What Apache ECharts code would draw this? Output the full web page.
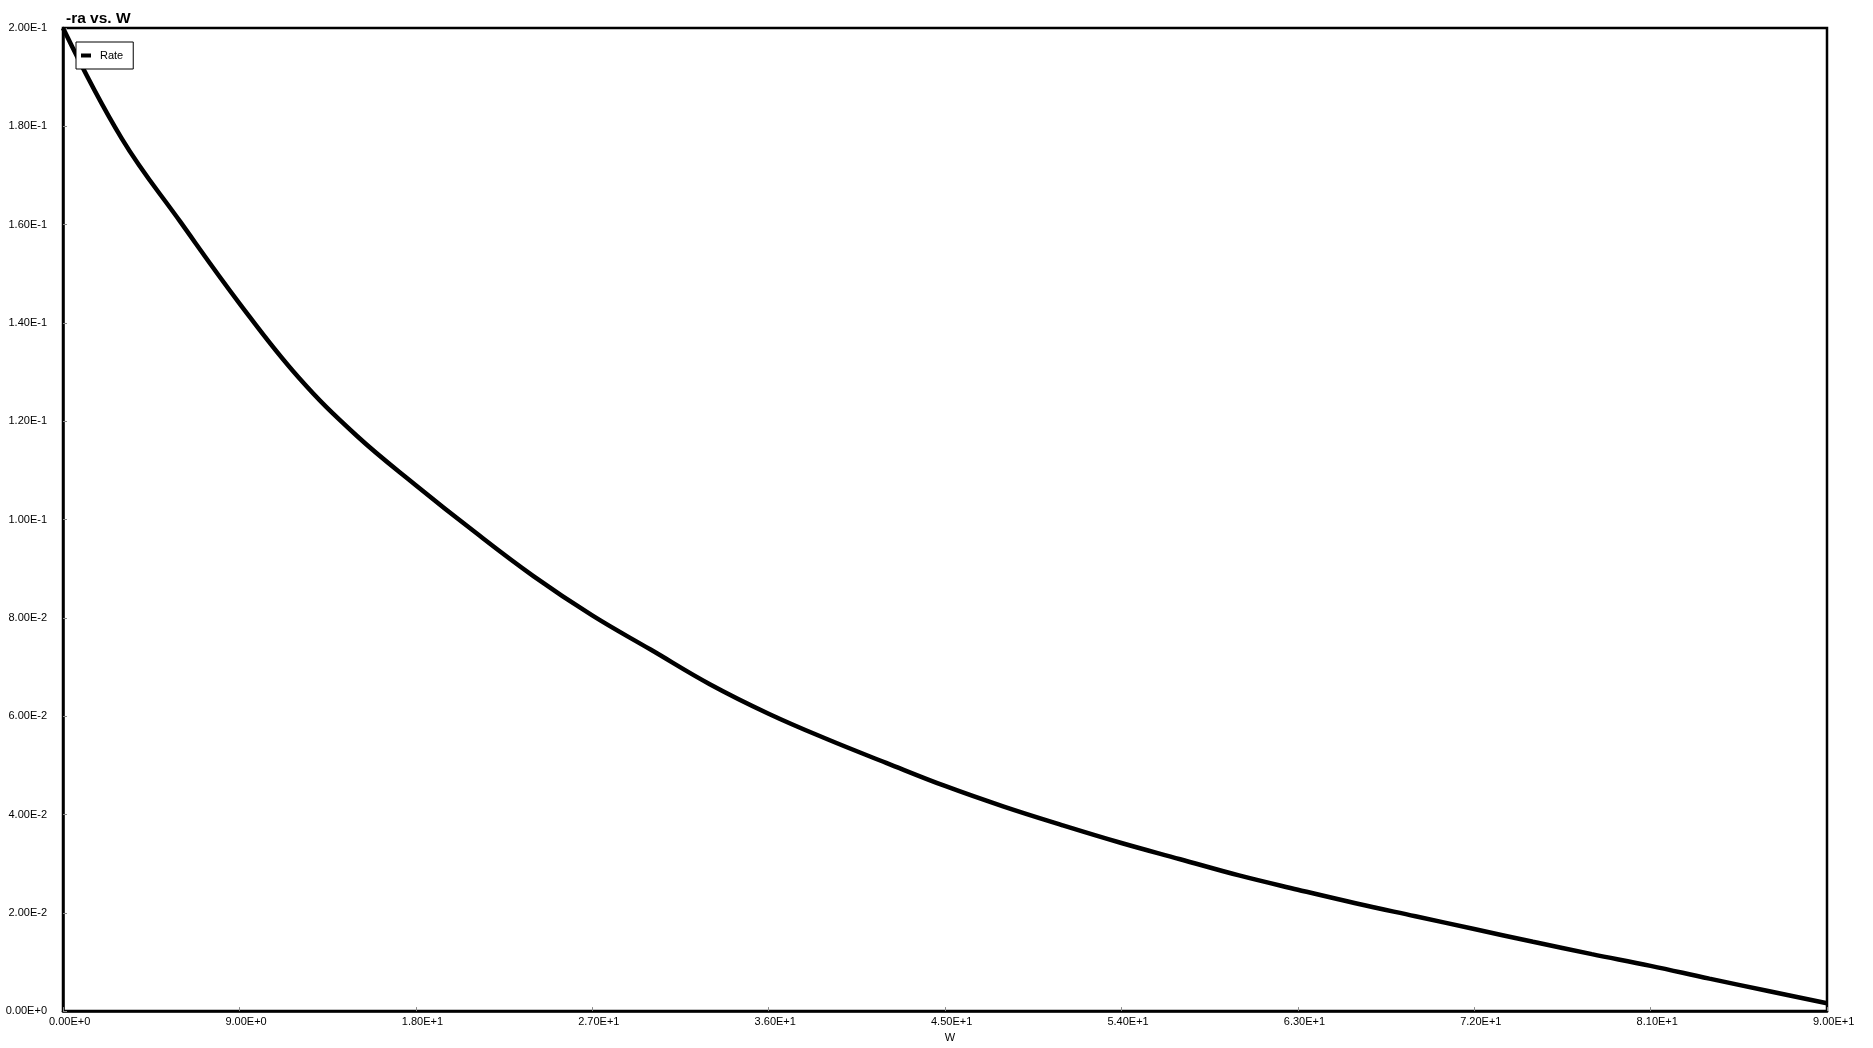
<!DOCTYPE html>
<html>
<head>
<meta charset="utf-8">
<script src="https://cdn.jsdelivr.net/npm/echarts@6/dist/echarts.min.js"></script>
<style>
html,body{margin:0;padding:0;background:#fff;}
#chart{width:1873px;height:1048px;}
</style>
</head>
<body>
<div id="chart"></div>
<script>
// Data
const wValues = [0, 3, 6, 9, 12, 15, 18, 21, 24, 27, 30, 33, 36, 39, 42, 45, 48, 51, 54, 57, 60, 63, 66, 69, 72, 75, 78, 81, 84, 87, 90];
const rateValues = [0.2000, 0.1775, 0.1605, 0.1440, 0.1290, 0.1170, 0.1070, 0.0975, 0.0885, 0.0805, 0.0735, 0.0665, 0.0605, 0.0553, 0.0505, 0.0458, 0.0416, 0.0378, 0.0342, 0.0309, 0.0276, 0.0247, 0.0219, 0.0193, 0.0167, 0.0141, 0.0116, 0.0092, 0.0066, 0.0041, 0.0016];
const seriesName = 'Rate';
const chartTitle = '-ra vs. W';
const xName = 'W';

const fontFam = '"Liberation Sans", Arial, sans-serif';
const fmt = v => Number(v).toExponential(2).toUpperCase();

const chart = echarts.init(document.getElementById('chart'), null, {renderer: 'canvas'});
chart.setOption({
  backgroundColor: '#fff',
  animation: false,
  title: {
    text: chartTitle,
    left: 61,
    top: 6,
    textStyle: {fontFamily: fontFam, fontSize: 15.5, fontWeight: 'bold', color: '#000'}
  },
  legend: {
    left: 76,
    top: 42,
    padding: [8, 10, 8, 5],
    backgroundColor: '#fff',
    borderColor: '#000',
    borderWidth: 1,
    borderRadius: 0,
    itemWidth: 10,
    itemHeight: 4,
    icon: 'rect',
    data: [seriesName],
    textStyle: {fontFamily: fontFam, fontSize: 11, color: '#000', padding: [0, 0, 0, 4]}
  },
  grid: {
    left: 63, top: 28, width: 1764, height: 989,
    show: true, borderColor: '#000', borderWidth: 2.5, backgroundColor: '#fff'
  },
  xAxis: {
    type: 'value',
    min: 0, max: 90, interval: 9,
    name: xName,
    nameLocation: 'middle',
    nameGap: 19,
    nameTextStyle: {fontFamily: fontFam, fontSize: 11, color: '#000', padding: [0, 0, 0, 10]},
    axisLine: {show: true, lineStyle: {color: '#000', width: 2.5}},
    axisTick: {show: true, inside: true, length: 4, lineStyle: {color: '#888', width: 1}},
    splitLine: {show: false},
    axisLabel: {
      formatter: fmt, margin: 5, align: 'left', padding: [0, 0, 0, -14],
      fontFamily: fontFam, fontSize: 11, color: '#000', showMaxLabel: true, showMinLabel: true
    }
  },
  yAxis: {
    type: 'value',
    min: 0, max: 0.2, interval: 0.02,
    axisLine: {show: true, lineStyle: {color: '#000', width: 2.5}},
    axisTick: {show: true, inside: true, length: 4, lineStyle: {color: '#888', width: 1}},
    splitLine: {show: false},
    axisLabel: {formatter: fmt, margin: 16, fontFamily: fontFam, fontSize: 11, color: '#000'}
  },
  series: [{
    name: seriesName,
    type: 'line',
    data: wValues.map((w, i) => [w, rateValues[i]]),
    showSymbol: false,
    smooth: 0.4,
    lineStyle: {color: '#000', width: 4.5},
    itemStyle: {color: '#000'}
  }]
});
</script>
</body>
</html>
